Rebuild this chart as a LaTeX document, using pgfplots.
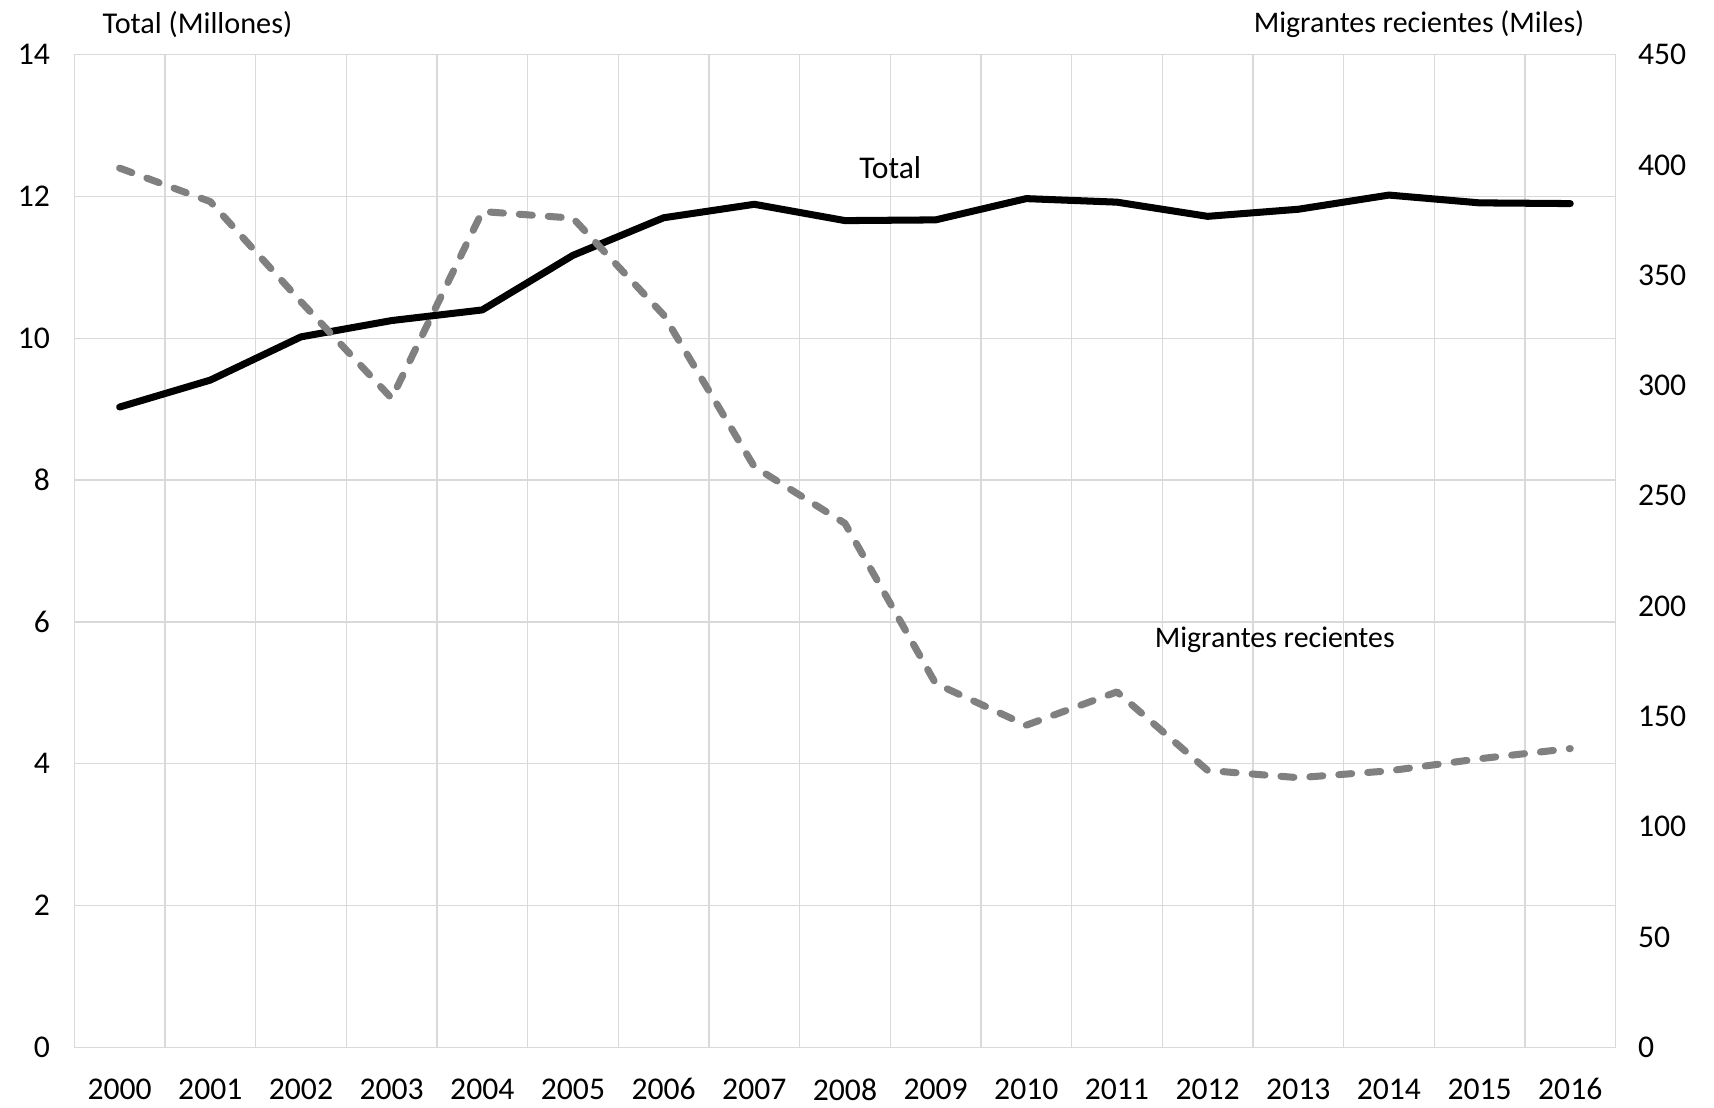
\documentclass[border=0pt]{standalone}
\usepackage{fontspec}
\setmainfont{Carlito}
\usepackage{pgfplots}
\pgfplotsset{compat=1.18}
\definecolor{gridgray}{HTML}{D9D9D9}
\definecolor{miggray}{HTML}{808080}

\begin{document}
\begin{tikzpicture}[font=\fontsize{9}{11}\selectfont]
\pgfplotsset{
    common/.style={
        scale only axis,
        width=154.13mm, height=99.25mm,
        at={(0,0)}, anchor=south west,
        xmin=-0.5, xmax=16.5,
        ymin=0,
        major tick length=0pt, minor tick length=0pt,
        /pgf/number format/assume math mode=true,
        /pgf/number format/1000 sep={},
        tick label style={font=\fontsize{9}{11}\selectfont},
    }
}
% left axis: total (millions)
\begin{axis}[
    common,
    ymax=14,
    ytick={0,2,...,14},
    xtick={0,...,16},
    xticklabels={2000,2001,2002,2003,2004,2005,2006,2007,2008,2009,2010,2011,2012,2013,2014,2015,2016},
    minor xtick={-0.5,0.5,...,16.5},
    xmajorgrids=false, xminorgrids=true, ymajorgrids=true,
    grid style={draw=gridgray, line width=0.4pt},
    minor grid style={draw=gridgray, line width=0.4pt},
    axis line style={draw=gridgray, line width=0.4pt},
    yticklabel style={xshift=-1.2mm},
    xticklabel style={yshift=-1.9mm},
    clip=false,
]
\addplot[black, line width=2pt, line join=round, line cap=round] coordinates {
    (0,9.03) (1,9.41) (2,10.02) (3,10.25) (4,10.40) (5,11.17) (6,11.70) (7,11.89) (8,11.66)
    (9,11.67) (10,11.97) (11,11.92) (12,11.72) (13,11.82) (14,12.02) (15,11.91) (16,11.90)
};
\node at (axis cs:8.5,12.41) {Total};
\node[font=\fontsize{8.5}{10}\selectfont] at (axis cs:12.74,5.75) {Migrantes recientes};
\end{axis}
% right axis: recent migrants (thousands)
\begin{axis}[
    common,
    ymax=450,
    ytick={0,50,...,450},
    axis y line*=right,
    axis x line=none,
    axis line style={draw=none},
    yticklabel style={xshift=1.0mm},
]
\addplot[miggray, line width=2pt, line cap=round, line join=round,
    dash pattern=on 1.3mm off 1.6mm] coordinates {
    (0,398.6) (1,383.4) (2,338) (3,294.2) (4,378.9) (5,375.9) (6,332.0) (7,263.2) (8,237.5)
    (9,164.9) (10,146.0) (11,161.1) (12,125.5) (13,122.2) (14,125.3) (15,130.8) (16,135.4)
};
\end{axis}
\node[anchor=west, inner sep=0pt, font=\fontsize{8.6}{10}\selectfont] at (2.77mm,102.3mm) {Total (Millones)};
\node[anchor=east, inner sep=0pt, font=\fontsize{8.5}{10}\selectfont] at (151.07mm,102.3mm) {Migrantes recientes (Miles)};
\pgfresetboundingbox
\path[use as bounding box] (-7.43mm,-5.98mm) rectangle (163.97mm,104.72mm);
\end{tikzpicture}
\end{document}
